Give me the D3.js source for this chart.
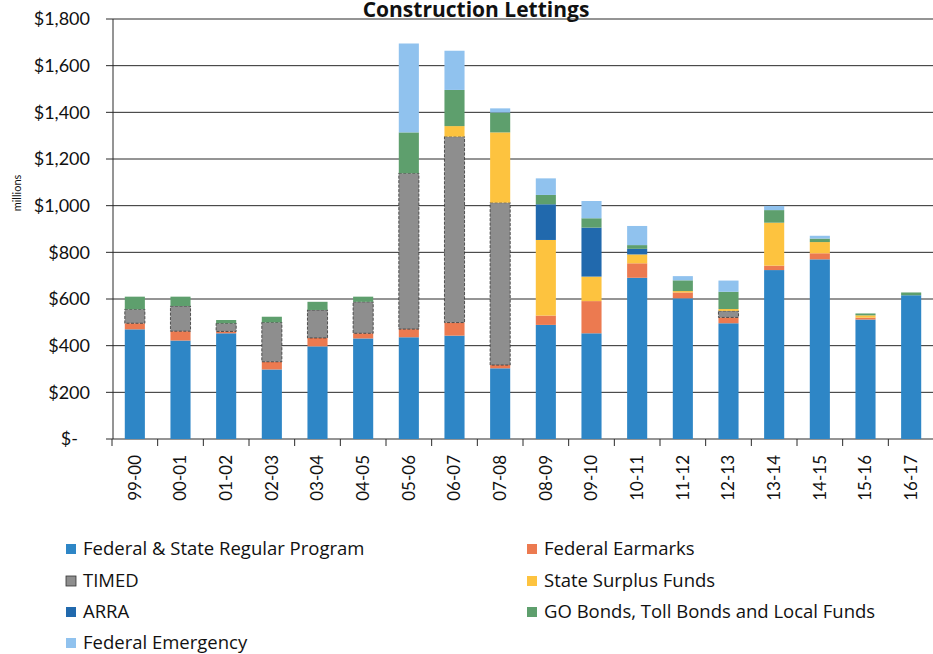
<!DOCTYPE html>
<html><head><meta charset="utf-8">
<script src="https://cdn.jsdelivr.net/npm/d3@7"></script>
<style>body{margin:0;background:#fff;} svg{display:block;font-family:Lato, "Open Sans", sans-serif;}</style>
</head><body><svg id="c" width="933" height="654"></svg>
<script>
const categories = ["99-00","00-01","01-02","02-03","03-04","04-05","05-06","06-07","07-08","08-09","09-10","10-11","11-12","12-13","13-14","14-15","15-16","16-17"];
const regularProgram = [470,422,453,298,397,431,436,443,303,489,453,691,603,496,724,770,512,616];
const federalEarmarks = [26,40,8,33,36,22,35,56,14,40,138,62,25,25,19,26,8,0];
const timed = [60,108,35,169,120,135,668,797,696,0,0,0,0,28,0,0,0,0];
const stateSurplus = [0,0,0,0,0,0,0,45,301,324,105,38,6,8,184,48,10,0];
const arra = [0,0,0,0,0,0,0,0,0,153,210,24,0,0,0,0,0,0];
const goBonds = [54,40,14,24,35,22,175,155,85,40,40,16,46,74,54,15,8,12];
const federalEmergency = [0,0,0,0,0,0,381,168,18,71,74,82,18,48,18,12,0,0];
const yTicks = [0,200,400,600,800,1000,1200,1400,1600,1800];
const yTickLabels = ["$-","$200","$400","$600","$800","$1,000","$1,200","$1,400","$1,600","$1,800"];
const seriesNames = ["Federal & State Regular Program","Federal Earmarks","TIMED","State Surplus Funds","ARRA","GO Bonds, Toll Bonds and Local Funds","Federal Emergency"];
const seriesColors = ["#2e86c6","#ec7a50","#8e8e8e","#fdc33f","#2169ad","#5e9f6d","#90c2ee"];
const seriesValues = [regularProgram,federalEarmarks,timed,stateSurplus,arra,goBonds,federalEmergency];

const table = categories.map((c,i)=>{const o={cat:c}; seriesNames.forEach((n,k)=>o[n]=seriesValues[k][i]); return o;});
const stacked = d3.stack().keys(seriesNames)(table);

const svg = d3.select("#c");
const x = d3.scaleBand().domain(categories).range([112,934]).paddingInner(0.56).paddingOuter(0.28);
const y = d3.scaleLinear().domain([0,1800]).range([439,19]);
const color = d3.scaleOrdinal().domain(seriesNames).range(seriesColors);

// title
svg.append("text").attr("x",476).attr("y",17).attr("text-anchor","middle")
  .attr("font-family","'Open Sans', sans-serif")
  .attr("font-weight","bold").attr("font-size",21).attr("fill","#111").text("Construction Lettings");

// gridlines
svg.append("g").selectAll("line").data(yTicks).join("line")
  .attr("x1",106).attr("x2",933).attr("y1",d=>y(d)).attr("y2",d=>y(d))
  .attr("stroke","#2a2a2a").attr("stroke-width",1);

// y labels
svg.append("g").selectAll("text").data(yTicks).join("text")
  .attr("x",(d,i)=>i===0?78:90).attr("y",d=>y(d)).attr("dy","0.35em")
  .attr("text-anchor","end").attr("font-size",18).attr("fill","#111")
  .text((d,i)=>yTickLabels[i]);

svg.append("text").attr("transform","translate(21,193) rotate(-90)").attr("text-anchor","middle")
  .attr("font-size",11).attr("fill","#111").text("millions");

// y axis line
svg.append("line").attr("x1",113).attr("x2",113).attr("y1",y(1800)).attr("y2",y(0)).attr("stroke","#2a2a2a");

// bars
svg.append("g").selectAll("g").data(stacked).join("g")
  .attr("fill",d=>color(d.key))
  .selectAll("rect").data(d=>d.map(p=>({p,key:d.key}))).join("rect")
  .filter(d=>d.p[1]-d.p[0]>0)
  .attr("x",d=>x(d.p.data.cat)).attr("width",x.bandwidth())
  .attr("y",d=>y(d.p[1])).attr("height",d=>y(d.p[0])-y(d.p[1]))
  .attr("stroke",d=>d.key==="TIMED"?"#333":"none")
  .attr("stroke-width",d=>d.key==="TIMED"?0.8:0)
  .attr("stroke-dasharray",d=>d.key==="TIMED"?"3,1.5":null);

// x axis ticks at boundaries
const step = x.step(), x0 = x.range()[0];
svg.append("g").selectAll("line").data(d3.range(categories.length+1)).join("line")
  .attr("x1",i=>x0+i*step).attr("x2",i=>x0+i*step).attr("y1",y(0)).attr("y2",y(0)+7)
  .attr("stroke","#2a2a2a");

// x labels
svg.append("g").selectAll("text").data(categories).join("text")
  .attr("transform",d=>`translate(${x(d)+x.bandwidth()/2},455) rotate(-90)`)
  .attr("dy","0.35em").attr("text-anchor","end").attr("font-size",17).attr("fill","#111")
  .text(d=>d);

// legend
const legendPos = [[66,549],[527,549],[66,581],[527,581],[66,612],[527,612],[66,643]];
const lg = svg.append("g").selectAll("g").data(seriesNames).join("g")
  .attr("transform",(d,i)=>`translate(${legendPos[i][0]},${legendPos[i][1]})`);
lg.append("rect").attr("x",0).attr("y",-5).attr("width",10).attr("height",10)
  .attr("fill",d=>color(d)).attr("stroke",d=>d==="TIMED"?"#333":"none").attr("stroke-width",0.8);
lg.append("text").attr("x",17).attr("dy","0.35em").attr("font-family","'Open Sans', sans-serif")
  .attr("font-size",18.5).attr("fill","#111").text(d=>d);
</script></body></html>
